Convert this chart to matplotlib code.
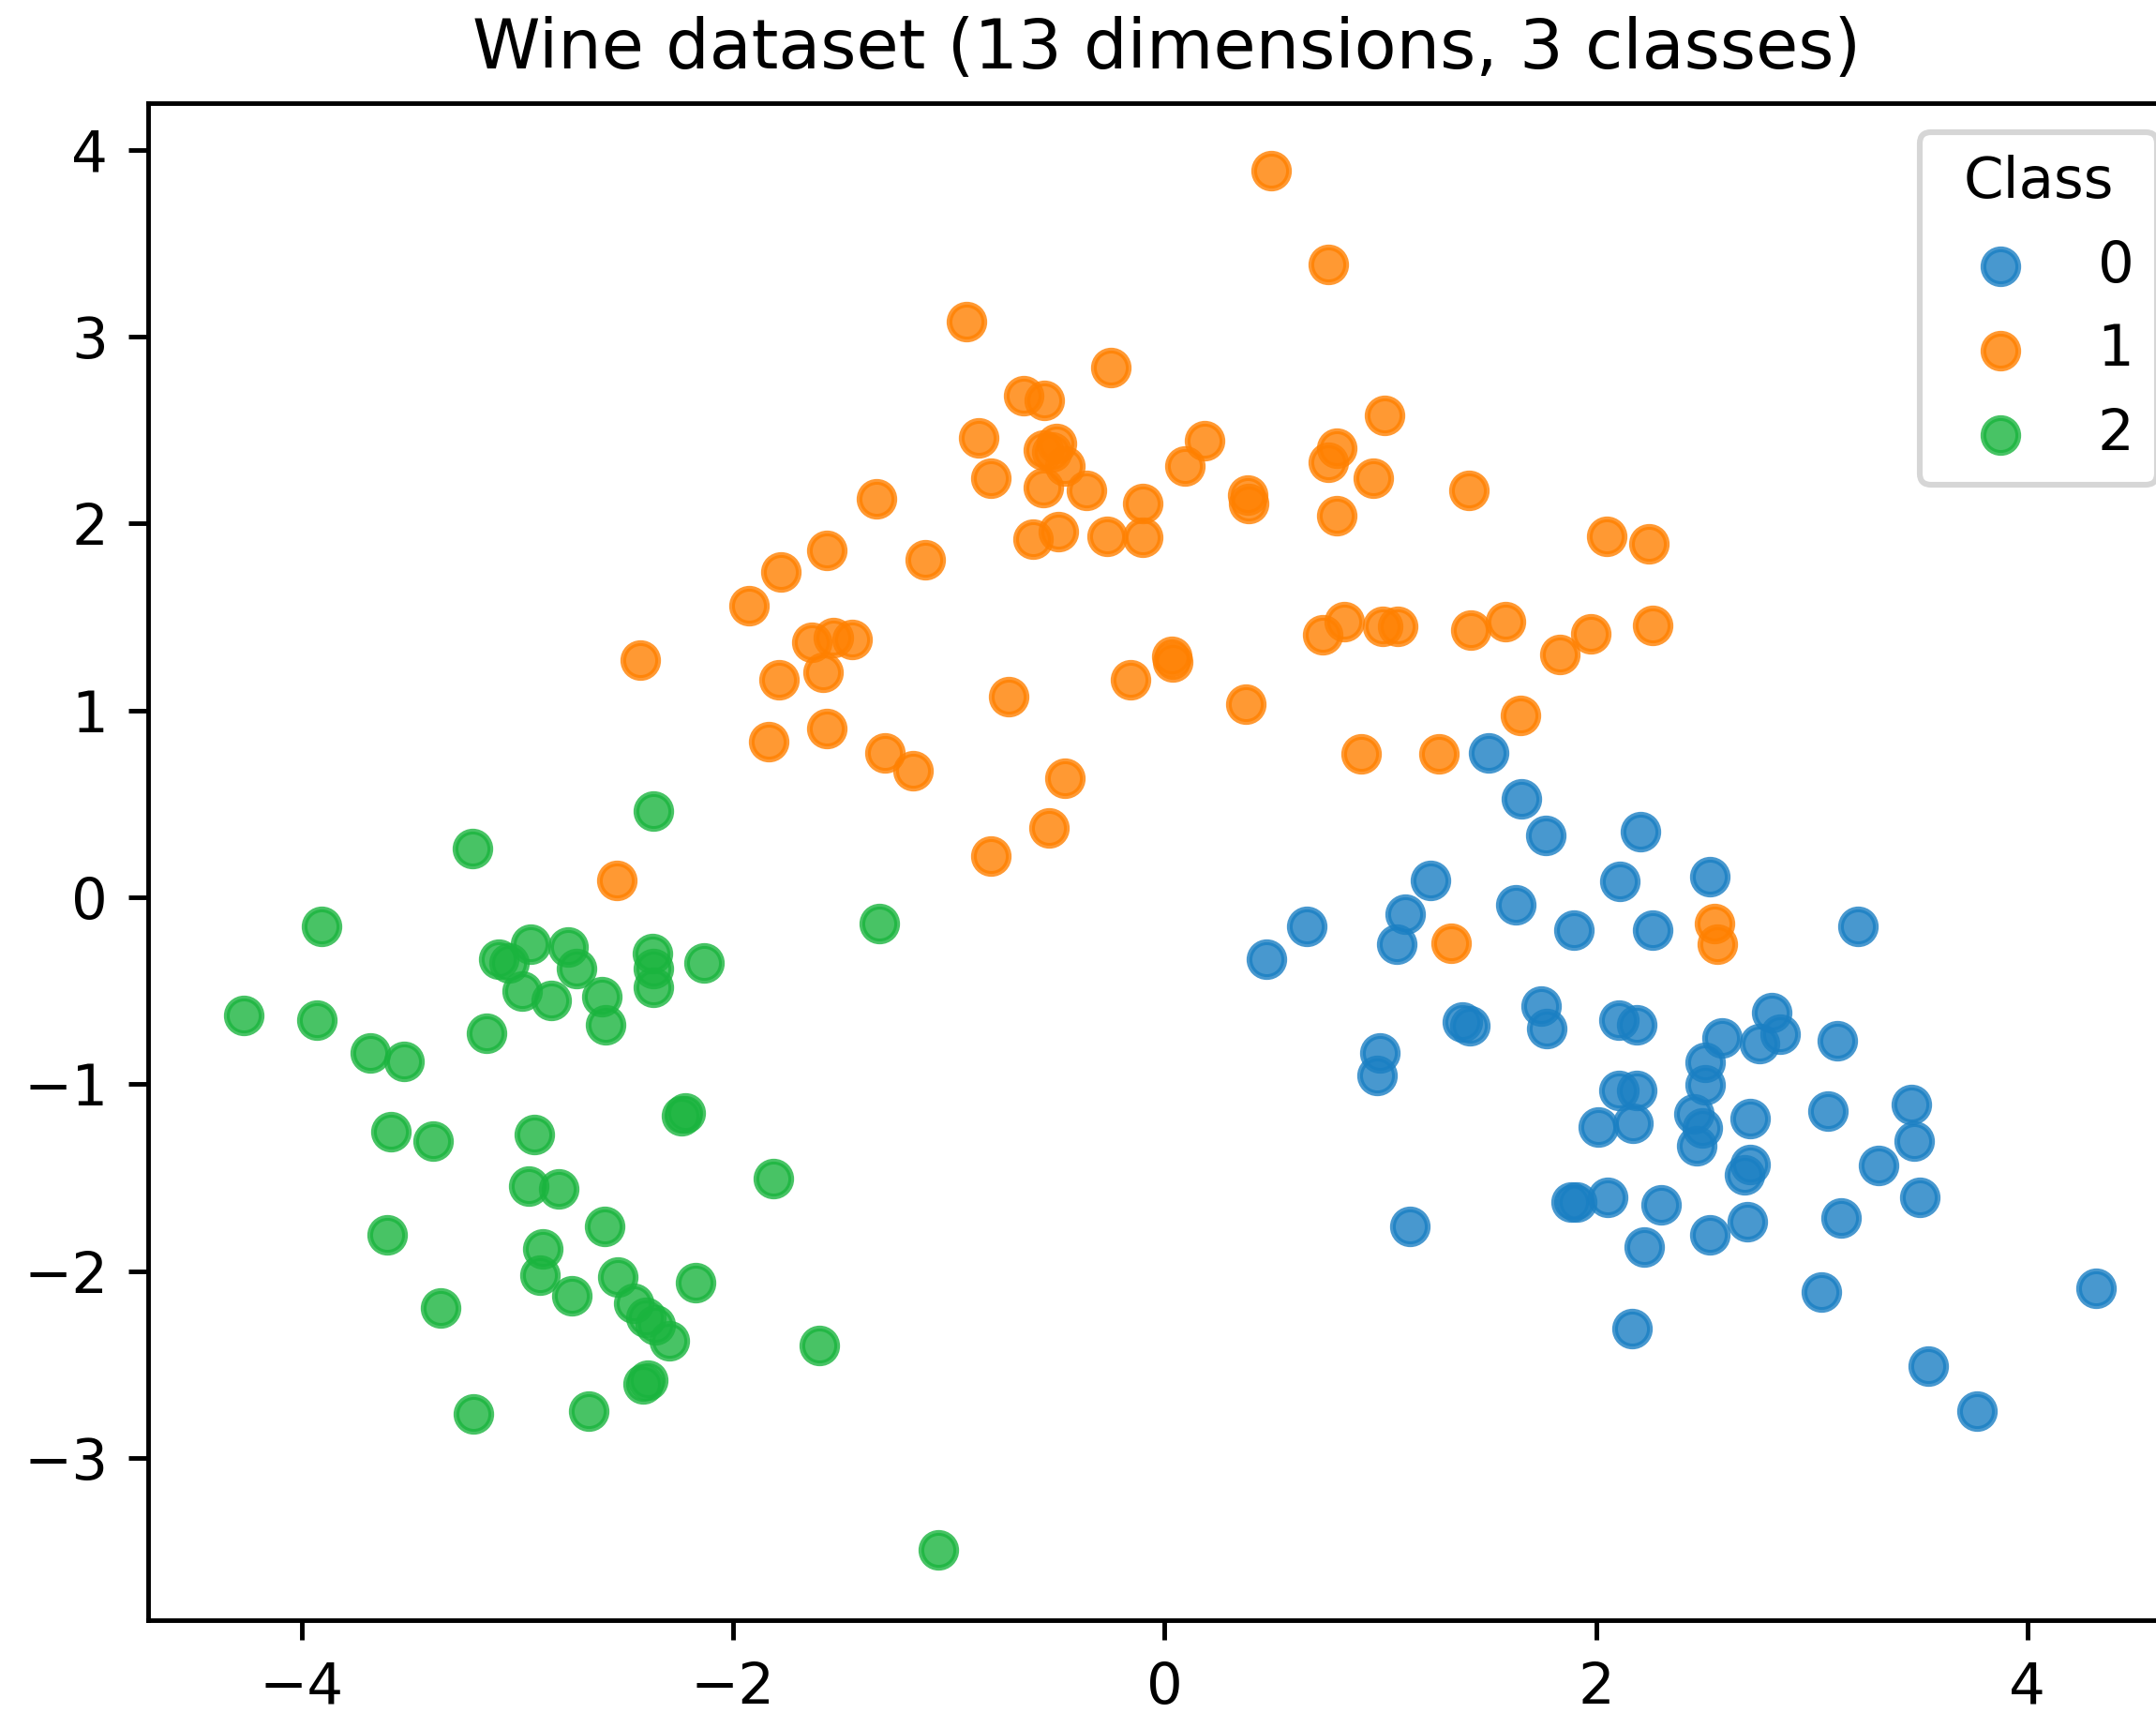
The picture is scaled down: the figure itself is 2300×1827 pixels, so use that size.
import numpy as np
import matplotlib
matplotlib.use('Agg')
import matplotlib.pyplot as plt

# 2D projection of the wine data
class0_x = [1.502, 1.654, 1.768, 2.208, 1.233, 2.112, 2.527, 1.117, 1.075, 1.629,
            0.659, 0.472, 1.898, 2.263, 3.214, 1.382, 1.414, 1.746, 1.773, 2.106,
            2.189, 2.813, 2.854, 2.757, 2.585, 3.117, 0.998, 0.984, 2.508, 2.508,
            2.106, 2.189, 2.009, 2.170, 2.452, 2.494, 2.466, 2.716, 3.076, 3.464,
            3.477, 2.716, 2.688, 3.311, 3.499, 1.885, 1.911, 2.056, 2.300, 2.527,
            2.702, 3.136, 2.223, 1.136, 3.043, 4.316, 2.166, 3.541, 3.768]
class0_y = [0.771, 0.529, 0.332, 0.353, 0.089, 0.085, 0.111, -0.090, -0.249, -0.040,
            -0.157, -0.333, -0.177, -0.177, -0.157, -0.666, -0.688, -0.583, -0.701, -0.659,
            -0.684, -0.617, -0.734, -0.784, -0.751, -0.768, -0.834, -0.951, -0.885, -1.002,
            -1.034, -1.034, -1.227, -1.211, -1.161, -1.236, -1.328, -1.185, -1.144, -1.110,
            -1.303, -1.428, -1.487, -1.433, -1.604, -1.629, -1.630, -1.604, -1.646, -1.805,
            -1.737, -1.716, -1.871, -1.763, -2.110, -2.092, -2.306, -2.507, -2.749]

class1_x = [0.493, 0.761, -0.916, -0.249, -0.654, -0.556, -0.861, -0.561, -0.499, -0.461,
            -0.561, -0.362, -0.805, 0.187, 0.094, -0.100, 0.387, 0.391, 0.798, 0.761,
            1.022, 0.967, 1.409, 0.798, -1.334, -1.564, -1.776, -1.110, -0.611, -0.491,
            -0.267, -0.100, -1.926, -1.634, -1.534, -1.447, -1.788, -1.583, -2.428, -1.833,
            -1.564, -1.297, -1.165, -0.723, -0.461, -0.536, -0.805, -0.157, 0.032, 0.038,
            0.378, 0.735, 0.835, 1.010, 1.083, 1.422, 1.580, 1.834, 1.975, 2.261,
            1.650, 2.048, 2.244, 0.910, 1.272, 1.330, 2.549, 2.563, -2.537, -0.524]
class1_y = [3.891, 3.386, 3.079, 2.837, 2.686, 2.661, 2.460, 2.394, 2.427, 2.310,
            2.193, 2.176, 2.243, 2.444, 2.310, 2.109, 2.151, 2.109, 2.402, 2.327,
            2.578, 2.243, 2.176, 2.042, 2.134, 1.858, 1.741, 1.807, 1.917, 1.959,
            1.933, 1.925, 1.563, 1.365, 1.390, 1.382, 1.164, 1.206, 1.270, 0.835,
            0.902, 0.771, 0.679, 1.076, 0.637, 0.370, 0.219, 1.164, 1.292, 1.262,
            1.034, 1.407, 1.474, 1.449, 1.449, 1.432, 1.476, 1.299, 1.409, 1.454,
            0.975, 1.933, 1.892, 0.768, 0.768, -0.245, -0.140, -0.249, 0.092, 2.381]

class2_x = [-4.267, -3.928, -3.908, -3.681, -3.526, -3.584, -3.390, -3.601, -3.357, -3.206,
            -3.202, -3.142, -3.084, -3.040, -2.938, -2.764, -2.725, -2.978, -2.842, -2.609,
            -2.590, -2.375, -2.367, -2.367, -2.134, -2.367, -2.919, -2.945, -2.808, -2.596,
            -2.883, -2.895, -2.746, -2.534, -2.459, -2.360, -2.403, -2.297, -2.172, -1.599,
            -2.396, -2.416, -2.671, -2.221, -2.237, -1.813, -1.322, -1.050]
class2_y = [-0.634, -0.659, -0.157, -0.834, -0.876, -1.253, -1.303, -1.805, -2.197, 0.261,
            -2.766, -0.726, -0.333, -0.350, -0.249, -0.266, -0.383, -0.500, -0.550, -0.533,
            -0.684, -0.299, -0.383, -0.483, -0.350, 0.462, -1.270, -1.545, -1.562, -1.763,
            -1.880, -2.022, -2.131, -2.030, -2.173, -2.289, -2.248, -2.373, -2.064, -2.398,
            -2.582, -2.602, -2.749, -1.152, -1.167, -1.504, -0.140, -3.494]

series = [(class0_x, class0_y, '0', '#1a7fc3'),
          (class1_x, class1_y, '1', '#ff8000'),
          (class2_x, class2_y, '2', '#1ab43e')]

dpi = 440
fig = plt.figure(figsize=(2300 / dpi, 1827 / dpi), dpi=dpi)
ax = fig.add_axes([0.0687, 0.0542, 0.945, 0.8856])

for xs, ys, nome, cor in series:
    ax.scatter(xs, ys, s=37, color=cor, alpha=0.8, label=nome)

ax.set_xlim(-4.711, 4.733)
ax.set_ylim(-3.868, 4.250)
ax.set_title('Wine dataset (13 dimensions, 3 classes)')
ax.legend(title='Class', loc='upper right', handletextpad=0.7)

fig.savefig('out.png', dpi=dpi)
